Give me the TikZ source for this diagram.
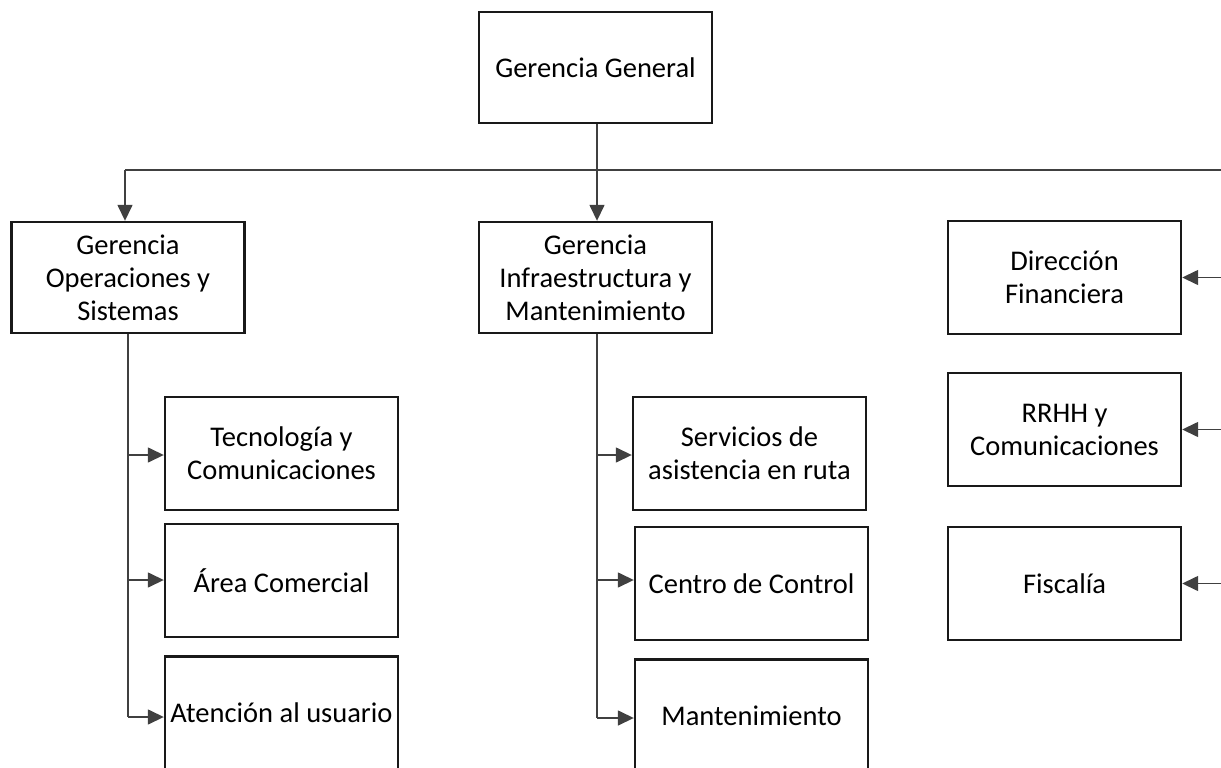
\documentclass[tikz,border=0pt]{standalone}
\usepackage{fontspec}
\setmainfont{Carlito}
\usetikzlibrary{arrows.meta}
\tikzstyle{caja} = [rectangle, minimum width=233pt, minimum height=111pt, inner sep=0pt, align=center, draw=black!90, line width=2.4pt, font=\fontsize{28.5}{33}\selectfont]
\tikzstyle{linea} = [black!75, line width=1.5pt]
\tikzstyle{flecha} = [linea, -{Triangle[length=16pt,width=15pt]}]

\begin{document}
\begin{tikzpicture}[x=1pt,y=-1pt]
\useasboundingbox[fill=white] (0,0) rectangle (1221,768);

\node[caja] (gg) at (595.5,67.5) {Gerencia General};

\node[caja] (gos) at (128,277.5) {Gerencia\\Operaciones y\\Sistemas};
\node[caja] (gim) at (595.5,277.5) {Gerencia\\Infraestructura y\\Mantenimiento};

\node[caja, minimum height=113pt] (tec) at (281.5,453.5) {Tecnología y\\Comunicaciones};
\node[caja, minimum height=113pt] (com) at (281.5,580.5) {Área Comercial};
\node[caja, minimum height=113pt] (ate) at (281.5,713) {Atención al usuario};

\node[caja, minimum height=113pt] (ser) at (749.5,453.5) {Servicios de\\asistencia en ruta};
\node[caja, minimum height=113pt] (cc) at (751.5,583.5) {Centro de Control};
\node[caja, minimum height=113pt] (man) at (751.5,716) {Mantenimiento};

\node[caja, minimum height=113pt] (dir) at (1064.5,277.5) {Dirección\\Financiera};
\node[caja, minimum height=113pt] (rrhh) at (1064.5,429.5) {RRHH y\\Comunicaciones};
\node[caja, minimum height=113pt] (fis) at (1064.5,583.5) {Fiscalía};

% top bar
\coordinate (bus) at (597,170);
\coordinate (busL) at (125,170);
\coordinate (busR) at (1228,170);
\draw[linea] (gg.south -| bus) -- (bus);
\draw[linea] (busL) -- (bus);
\draw[linea, line width=2.4pt] (bus) -- (busR);
\draw[flecha] (busL) -- (busL |- gos.north);
\draw[flecha] (bus) -- (bus |- gim.north);

% right side
\draw[linea] (busR) -- (busR |- fis.east);
\foreach \n in {dir,rrhh,fis}
  \draw[flecha] (busR |- \n.east) -- (\n.east);

% left column
\draw[linea] (gos.south) -- (128,717);
\draw[flecha] (128,455) -- (tec.west |- 0,455);
\draw[flecha] (128,580) -- (com.west |- 0,580);
\draw[flecha] (128,717) -- (ate.west |- 0,717);

% middle column
\draw[linea] (gim.south -| bus) -- (597,718);
\draw[flecha] (597,455) -- (ser.west |- 0,455);
\draw[flecha] (597,580) -- (cc.west |- 0,580);
\draw[flecha] (597,718) -- (man.west |- 0,718);
\end{tikzpicture}
\end{document}
